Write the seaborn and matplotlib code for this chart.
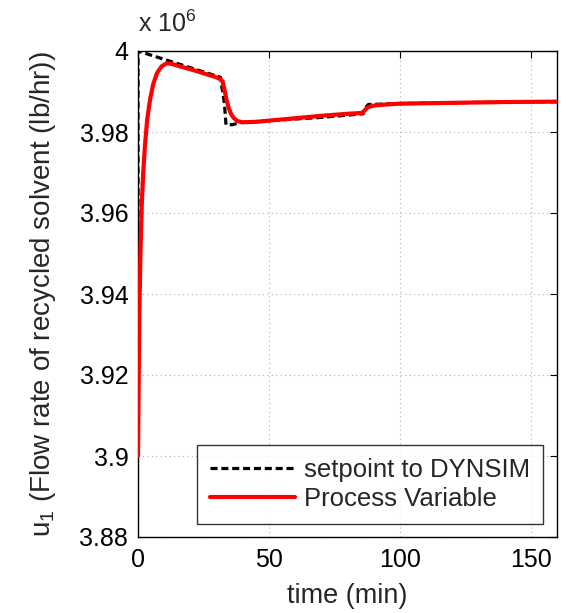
import matplotlib
matplotlib.use("Agg")
import matplotlib.pyplot as plt
import seaborn as sns
import pandas as pd
import numpy as np

# setpoint sent to DYNSIM (lb/hr, x 1e6)
sp_time = [0, 0.01, 31.5, 33.0, 33.6, 36.0, 39.0, 50.0, 70.0, 86.0, 86.5, 88.0, 100.0, 130.0, 160.0]
sp_value = [3.900, 4.000, 3.9935, 3.9870, 3.9818, 3.9818, 3.9823, 3.9828, 3.9836, 3.9845, 3.9858, 3.9868, 3.9870, 3.9873, 3.9875]

# process variable response
pv_time = [0, 0.5, 1.0, 1.5, 2.0, 2.7, 3.5, 4.6, 5.8, 7.3, 9.0, 11.0, 13.0, 16.0, 20.0, 25.0,
           30.0, 31.5, 32.3, 33.0, 33.8, 34.6, 35.5, 36.5, 38.0, 40.0, 45.0, 50.0, 60.0, 70.0,
           80.0, 85.5, 86.5, 87.5, 89.0, 91.0, 95.0, 100.0, 120.0, 140.0, 160.0]
pv_value = [3.900, 3.935, 3.952, 3.963, 3.970, 3.977, 3.983, 3.9880, 3.9918, 3.9946, 3.9962, 3.9970,
            3.9968, 3.9962, 3.9955, 3.9945, 3.9935, 3.9930, 3.9925, 3.9905, 3.9880, 3.9860, 3.9845,
            3.9835, 3.9827, 3.9824, 3.9825, 3.9828, 3.9834, 3.9840, 3.9845, 3.9847, 3.9853, 3.9860,
            3.9864, 3.9866, 3.9868, 3.9870, 3.9872, 3.9874, 3.9875]

x_ticks = [0, 50, 100, 150]
y_ticks = [3.88, 3.90, 3.92, 3.94, 3.96, 3.98, 4.00]
y_ticklabels = ["3.88", "3.9", "3.92", "3.94", "3.96", "3.98", "4"]

df_sp = pd.DataFrame({"time": sp_time, "u1": sp_value})
df_pv = pd.DataFrame({"time": pv_time, "u1": pv_value})

sns.set_style("white")
plt.rcParams["font.family"] = ["Liberation Sans", "DejaVu Sans"]
plt.rcParams["mathtext.fontset"] = "custom"
plt.rcParams["mathtext.rm"] = "Liberation Sans"

fig = plt.figure(figsize=(5.66, 6.13), dpi=100)
# axes box: x 138..557 px, y 51..537 px
ax = fig.add_axes([138 / 566, 1 - 537 / 613, 419 / 566, 486 / 613])

sns.lineplot(data=df_sp, x="time", y="u1", ax=ax, color="black", linestyle=(0, (2.2, 1.2)),
             linewidth=2.3, label="setpoint to DYNSIM", zorder=3)
sns.lineplot(data=df_pv, x="time", y="u1", ax=ax, color="#ff0000", linewidth=3.0,
             label="Process Variable", zorder=4)

ax.set_xlim(0, 160)
ax.set_ylim(3.88, 4.0)
ax.set_xticks(x_ticks)
ax.set_yticks(y_ticks)
ax.set_yticklabels(y_ticklabels)
ax.grid(True, linestyle=(0, (1, 3)), color="#b0b0b0", linewidth=0.8)
ax.tick_params(direction="in", length=5, labelsize=18, top=True, right=True, colors="black")
ax.tick_params(axis="y", pad=7)
ax.tick_params(axis="x", pad=8)
for s in ax.spines.values():
    s.set_color("black")
    s.set_linewidth(1.0)

ax.set_xlabel("time (min)", fontsize=19.5)
ax.set_ylabel("u$_1$ (Flow rate of recycled solvent (lb/hr))", fontsize=20)
ax.xaxis.set_label_coords(0.5, -0.094)
ax.yaxis.set_label_coords(-0.19, 0.5)
ax.text(0.0, 1.028, "x 10$^6$", transform=ax.transAxes, fontsize=18, ha="left", va="bottom")

leg = ax.legend(loc="lower right", bbox_to_anchor=(0.9666, 0.0267), borderaxespad=0,
                fontsize=18.5, frameon=True, fancybox=False, edgecolor="black",
                handlelength=3.3, handletextpad=0.35, borderpad=0.5, labelspacing=0.2)
leg.get_frame().set_linewidth(1.0)

fig.savefig("out.png", dpi=100)
